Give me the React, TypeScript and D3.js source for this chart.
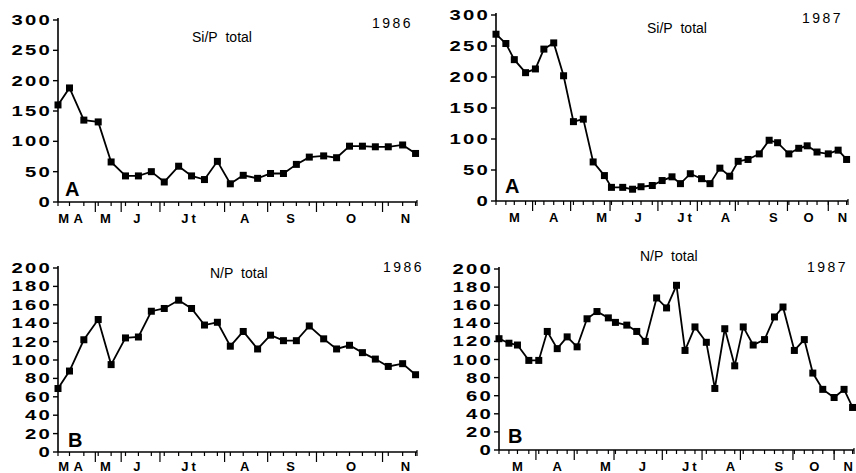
import React from 'react';
import * as d3 from 'd3';

// sampling days (days since start of season)
const days86 = [0, 8, 18, 28, 37, 47, 56, 65, 74, 84, 93, 102, 111, 120, 129, 139, 148, 157, 166, 175, 185, 194, 203, 212, 221, 230, 240, 249];
const siP86 = [160, 188, 135, 132, 66, 43, 43, 50, 33, 59, 43, 37, 67, 30, 44, 39, 47, 47, 62, 74, 76, 73, 92, 92, 91, 91, 94, 80];
const nP86 = [69, 88, 122, 144, 95, 124, 125, 153, 156, 165, 156, 138, 141, 115, 131, 112, 127, 121, 121, 137, 123, 112, 116, 108, 101, 93, 96, 84];

const days87 = [0, 7, 13, 21, 28, 34, 41, 48, 55, 62, 69, 77, 82, 90, 97, 103, 111, 118, 125, 131, 138, 146, 152, 159, 166, 172, 179, 187, 194, 200, 208, 215, 221, 228, 236, 243, 249];
const siP87 = [269, 254, 228, 207, 213, 245, 255, 202, 128, 132, 63, 41, 22, 22, 19, 23, 25, 33, 39, 28, 44, 36, 28, 53, 40, 64, 67, 76, 98, 94, 76, 85, 89, 79, 76, 82, 67];
const nP87 = [123, 118, 116, 99, 99, 131, 112, 125, 114, 145, 153, 146, 141, 138, 131, 120, 168, 157, 182, 110, 136, 119, 68, 134, 93, 136, 116, 122, 147, 158, 110, 122, 85, 67, 58, 67, 47];

const monthNames = ['M', 'A', 'M', 'J', 'Jt', 'A', 'S', 'O', 'N'];
const monthDays86 = [4, 14, 33, 55, 92, 130, 162, 204, 242];
const monthDays87 = [13, 41, 75, 101, 135, 163, 197, 222, 246];
const bounds86 = [26, 44, 71, 116, 146, 180, 226];
const bounds87 = [26, 53, 81, 115, 143, 170, 207, 236];

const siTicks = [0, 50, 100, 150, 200, 250, 300];
const nTicks = [0, 20, 40, 60, 80, 100, 120, 140, 160, 180, 200];

const FONT = '"Liberation Sans", Arial, sans-serif';

function Panel({ days, values, monthDays, bounds, ticks, box, letter, title, year }) {
  const x = d3.scaleLinear().domain([0, 250]).range([box.x0, box.x1]);
  const y = d3.scaleLinear().domain([0, ticks[ticks.length - 1]]).range([box.yBot, box.yTop]);
  const line = d3.line().x((d, i) => x(days[i])).y(d => y(d));
  const pts = values.map((v, i) => [x(days[i]), y(v)]);

  return (
    <g>
      {/* y axis */}
      <line x1={box.x0} x2={box.x0} y1={box.yBot} y2={box.yTop - 2} stroke="#000" strokeWidth={1.6} />
      {ticks.map(t => (
        <g key={t}>
          <line x1={box.x0 - 5} x2={box.x0} y1={y(t)} y2={y(t)} stroke="#000" strokeWidth={1.4} />
          <text
            transform={`translate(${box.x0 - 6},${y(t) + 5}) scale(1.45,1)`}
            textAnchor="end" fontFamily={FONT} fontWeight="bold" fontSize={14} letterSpacing={1.5}
          >{t}</text>
        </g>
      ))}
      {/* x axis */}
      <line x1={box.x0} x2={box.x1} y1={box.yBot} y2={box.yBot} stroke="#000" strokeWidth={1.6} />
      {days.map((d, i) => (
        <line key={'m' + i} x1={x(d)} x2={x(d)} y1={box.yBot} y2={box.yBot + 4} stroke="#000" strokeWidth={1.2} />
      ))}
      <line x1={box.x1} x2={box.x1} y1={box.yBot - 2} y2={box.yBot + 4} stroke="#000" strokeWidth={1.2} />
      {bounds.map((d, i) => (
        <line key={'b' + i} x1={x(d)} x2={x(d)} y1={box.yBot} y2={box.yBot + 10} stroke="#000" strokeWidth={1.2} />
      ))}
      {monthNames.map((m, i) => (
        <text key={'l' + i} x={x(monthDays[i])} y={box.labelY} textAnchor="middle"
          fontFamily={FONT} fontWeight="bold" fontSize={13} letterSpacing={m === 'Jt' ? 3 : 0}>{m}</text>
      ))}
      {/* series */}
      <path d={line(values)} fill="none" stroke="#000" strokeWidth={1.8} />
      {pts.map((p, i) => (
        <rect key={'p' + i} x={p[0] - 3.5} y={p[1] - 3.5} width={7} height={7} fill="#000" />
      ))}
      {/* annotations */}
      <text x={letter.x} y={letter.y} fontFamily={FONT} fontWeight="bold" fontSize={20}>{letter.t}</text>
      <text x={title.x} y={title.y} fontFamily={FONT} fontSize={14}>{title.t}</text>
      <text x={year.x} y={year.y} fontFamily={FONT} fontSize={14} letterSpacing={2.5}>{year.t}</text>
    </g>
  );
}

export default function App() {
  return (
    <svg width={856} height={473} style={{ position: 'absolute', left: 0, top: 0, background: '#fff' }}>
      <Panel days={days86} values={siP86} monthDays={monthDays86} bounds={bounds86} ticks={siTicks}
        box={{ x0: 58, x1: 417, yTop: 20, yBot: 202, labelY: 223 }}
        letter={{ t: 'A', x: 65, y: 196 }} title={{ t: 'Si/P\u00A0\u00A0total', x: 192, y: 42 }} year={{ t: '1986', x: 372, y: 28 }} />
      <Panel days={days87} values={siP87} monthDays={monthDays87} bounds={bounds87} ticks={siTicks}
        box={{ x0: 496, x1: 848, yTop: 15, yBot: 201, labelY: 222 }}
        letter={{ t: 'A', x: 505, y: 193 }} title={{ t: 'Si/P\u00A0\u00A0total', x: 647, y: 33 }} year={{ t: '1987', x: 802, y: 23 }} />
      <Panel days={days86} values={nP86} monthDays={monthDays86} bounds={bounds86} ticks={nTicks}
        box={{ x0: 58, x1: 417, yTop: 268, yBot: 452, labelY: 471 }}
        letter={{ t: 'B', x: 68, y: 447 }} title={{ t: 'N/P\u00A0\u00A0total', x: 210, y: 278 }} year={{ t: '1986', x: 383, y: 272 }} />
      <Panel days={days87} values={nP87} monthDays={monthDays87} bounds={bounds87} ticks={nTicks}
        box={{ x0: 499, x1: 854, yTop: 269, yBot: 450, labelY: 471 }}
        letter={{ t: 'B', x: 508, y: 443 }} title={{ t: 'N/P\u00A0\u00A0total', x: 640, y: 261 }} year={{ t: '1987', x: 807, y: 272 }} />
    </svg>
  );
}
